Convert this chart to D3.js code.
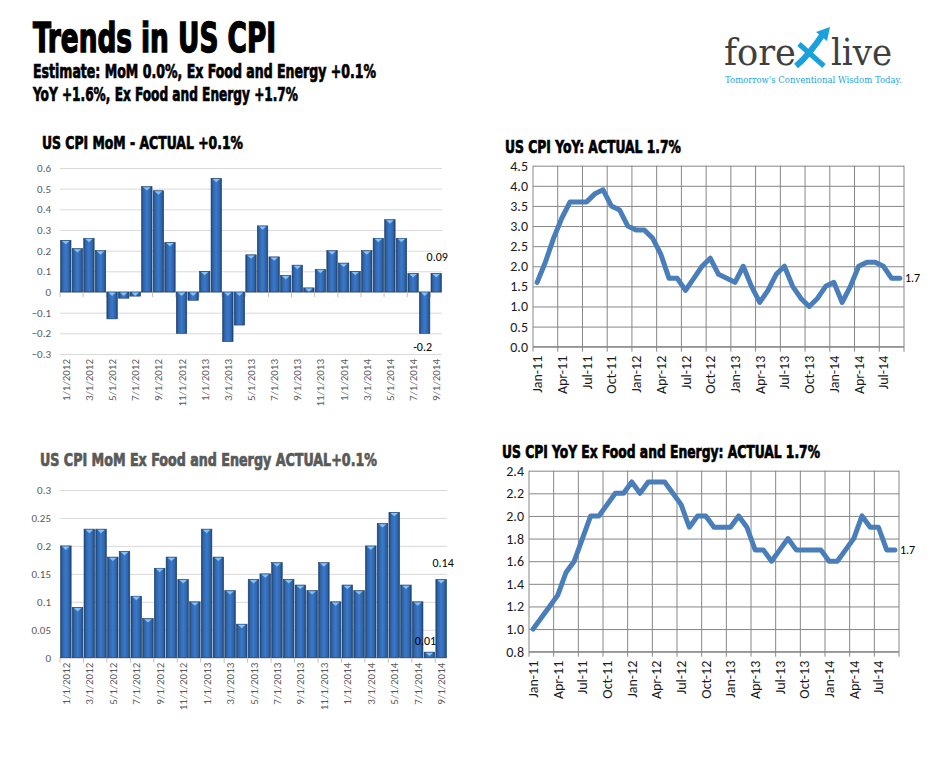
<!DOCTYPE html>
<html><head><meta charset="utf-8">
<script src="https://cdn.jsdelivr.net/npm/d3@7"></script>
<style>
body{margin:0;background:#fff;}
svg{display:block;}
.imp{font-family:Impact,"DejaVu Sans Condensed","Liberation Sans Narrow",sans-serif;font-weight:bold;font-stretch:condensed;}
.ax{font-family:Carlito,Lato,"Liberation Sans",sans-serif;}
</style></head>
<body>
<script>
// ---------- DATA ----------
const barMonths = ["1/1/2012","2/1/2012","3/1/2012","4/1/2012","5/1/2012","6/1/2012","7/1/2012","8/1/2012","9/1/2012","10/1/2012","11/1/2012","12/1/2012",
 "1/1/2013","2/1/2013","3/1/2013","4/1/2013","5/1/2013","6/1/2013","7/1/2013","8/1/2013","9/1/2013","10/1/2013","11/1/2013","12/1/2013",
 "1/1/2014","2/1/2014","3/1/2014","4/1/2014","5/1/2014","6/1/2014","7/1/2014","8/1/2014","9/1/2014"];
const cpiMoM = [0.25,0.21,0.26,0.20,-0.13,-0.03,-0.02,0.51,0.49,0.24,-0.20,-0.04,
 0.10,0.55,-0.24,-0.16,0.18,0.32,0.17,0.08,0.13,0.02,0.11,0.20,
 0.14,0.10,0.20,0.26,0.35,0.26,0.09,-0.20,0.09];
const coreMoM = [0.20,0.09,0.23,0.23,0.18,0.19,0.11,0.07,0.16,0.18,0.14,0.10,
 0.23,0.18,0.12,0.06,0.14,0.15,0.17,0.14,0.13,0.12,0.17,0.10,
 0.13,0.12,0.20,0.24,0.26,0.13,0.10,0.01,0.14];
const lineMonths = ["Jan-11","Feb-11","Mar-11","Apr-11","May-11","Jun-11","Jul-11","Aug-11","Sep-11","Oct-11","Nov-11","Dec-11",
 "Jan-12","Feb-12","Mar-12","Apr-12","May-12","Jun-12","Jul-12","Aug-12","Sep-12","Oct-12","Nov-12","Dec-12",
 "Jan-13","Feb-13","Mar-13","Apr-13","May-13","Jun-13","Jul-13","Aug-13","Sep-13","Oct-13","Nov-13","Dec-13",
 "Jan-14","Feb-14","Mar-14","Apr-14","May-14","Jun-14","Jul-14","Aug-14","Sep-14"];
const cpiYoY = [1.6,2.1,2.7,3.2,3.6,3.6,3.6,3.8,3.9,3.5,3.4,3.0,
 2.9,2.9,2.7,2.3,1.7,1.7,1.4,1.7,2.0,2.2,1.8,1.7,
 1.6,2.0,1.5,1.1,1.4,1.8,2.0,1.5,1.2,1.0,1.2,1.5,
 1.6,1.1,1.5,2.0,2.1,2.1,2.0,1.7,1.7];
const coreYoY = [1.0,1.1,1.2,1.3,1.5,1.6,1.8,2.0,2.0,2.1,2.2,2.2,
 2.3,2.2,2.3,2.3,2.3,2.2,2.1,1.9,2.0,2.0,1.9,1.9,
 1.9,2.0,1.9,1.7,1.7,1.6,1.7,1.8,1.7,1.7,1.7,1.7,
 1.6,1.6,1.7,1.8,2.0,1.9,1.9,1.7,1.7];
const momTicks = [-0.3,-0.2,-0.1,0,0.1,0.2,0.3,0.4,0.5,0.6];
const coreMomTicks = [0,0.05,0.1,0.15,0.2,0.25,0.3];
const yoyTicks = [0,0.5,1,1.5,2,2.5,3,3.5,4,4.5];
const coreYoyTicks = [0.8,1.0,1.2,1.4,1.6,1.8,2.0,2.2,2.4];

const W=941,H=759;
const svg=d3.select("body").append("svg").attr("width",W).attr("height",H);
const defs=svg.append("defs");
const g=defs.append("linearGradient").attr("id","barG").attr("x1","0").attr("x2","1").attr("y1","0").attr("y2","0");
[[0,"#1b4375"],[0.18,"#2f64aa"],[0.5,"#3b79c9"],[0.82,"#2f64aa"],[1,"#1b4375"]].forEach(s=>g.append("stop").attr("offset",s[0]).attr("stop-color",s[1]));

// ---------- HEADINGS ----------
function imp(x,y,txt,size,len,col,sw){
  svg.append("text").attr("class","imp").attr("x",x).attr("y",y).attr("font-size",size)
   .attr("fill",col||"#000").attr("stroke",col||"#000").attr("stroke-width",sw||0.7)
   .attr("textLength",len).attr("lengthAdjust","spacingAndGlyphs").text(txt);
}
imp(33,52,"Trends in US CPI",40,243,"#000",1.4);
imp(33,78,"Estimate: MoM 0.0%, Ex Food and Energy +0.1%",19,343);
imp(33,101,"YoY +1.6%, Ex Food and Energy +1.7%",19,265);
imp(42,149,"US CPI MoM - ACTUAL +0.1%",17.5,201);
imp(505,153,"US CPI YoY: ACTUAL 1.7%",17.5,176);
imp(40,466,"US CPI MoM Ex Food and Energy ACTUAL+0.1%",17.5,337,"#595959");
imp(502,458,"US CPI YoY Ex Food and Energy: ACTUAL 1.7%",17.5,318);

// ---------- LOGO ----------
const logo=svg.append("g");
logo.append("text").attr("x",724).attr("y",65).attr("font-family","'DejaVu Serif','Liberation Serif',serif")
 .attr("font-size",38).attr("fill","#3f3f3f").attr("textLength",72).attr("lengthAdjust","spacingAndGlyphs").text("fore");
logo.append("text").attr("x",831).attr("y",65).attr("font-family","'DejaVu Serif','Liberation Serif',serif")
 .attr("font-size",38).attr("fill","#3f3f3f").attr("textLength",61).attr("lengthAdjust","spacingAndGlyphs").text("live");
logo.append("path").attr("d","M799,44 L824,66").attr("stroke","#1aa0dc").attr("stroke-width",5).attr("fill","none");
logo.append("path").attr("d","M796,66 C806,58 815,46 823,34").attr("stroke","#1aa0dc").attr("stroke-width",6).attr("fill","none");
logo.append("path").attr("d","M816,32 L830,27 L827,41 Z").attr("fill","#1aa0dc");
logo.append("text").attr("x",725).attr("y",83).attr("font-family","'DejaVu Serif','Liberation Serif',serif")
 .attr("font-size",9.5).attr("fill","#29a3d8").attr("textLength",177).attr("lengthAdjust","spacingAndGlyphs").text("Tomorrow's Conventional Wisdom Today.");

// ---------- BAR CHART ----------
function barChart(o){
  const x=d3.scaleBand().domain(barMonths).range([o.x0,o.x1]).paddingInner(0.1).paddingOuter(0.05);
  const y=d3.scaleLinear().domain(o.dom).range([o.yb,o.yt]);
  const G=svg.append("g");
  const ax=d3.axisLeft(y).tickValues(o.ticks).tickSize(-(o.x1-o.x0)).tickFormat(d=>d3.format("")(+d.toFixed(2)));
  const ga=G.append("g").attr("transform",`translate(${o.x0},0)`).call(ax);
  ga.select(".domain").remove();
  ga.selectAll(".tick line").attr("stroke","#d9d9d9");
  ga.selectAll(".tick text").attr("class","ax").attr("font-size",11).attr("fill","#595959").attr("x",-9);
  const y0=y(0);
  G.append("line").attr("x1",o.x0).attr("x2",o.x1).attr("y1",y0).attr("y2",y0).attr("stroke","#bfbfbf");
  const step=x.step();
  d3.range(0,barMonths.length+1,2).forEach(i=>{
    const xx=o.x0+x.paddingOuter()*step+i*step-x.paddingInner()*step/2;
    G.append("line").attr("x1",xx).attr("x2",xx).attr("y1",y0).attr("y2",y0+5).attr("stroke","#bfbfbf");
  });
  const bars=G.selectAll("g.bar").data(o.vals).enter().append("g");
  bars.append("rect").attr("x",(d,i)=>x(barMonths[i])).attr("width",x.bandwidth())
   .attr("y",d=>Math.min(y(d),y0)).attr("height",d=>Math.abs(y(d)-y0)).attr("fill","url(#barG)")
   .attr("stroke","#1a3c68").attr("stroke-width",0.6);
  bars.append("path").attr("d",(d,i)=>{const bx=x(barMonths[i]),bw=x.bandwidth(),ty=Math.min(y(d),y0);
     return `M${bx+1.5},${ty+0.6} L${bx+bw-1.5},${ty+0.6} L${bx+bw/2},${ty+4} Z`;}).attr("fill","#86c3f2");
  barMonths.forEach((m,i)=>{ if(i%2) return;
    const cx=x(m)+x.bandwidth()/2;
    G.append("text").attr("class","ax").attr("font-size",11).attr("fill","#595959")
     .attr("transform",`translate(${cx+4},${o.yb+5}) rotate(-90)`).attr("text-anchor","end").text(m);
  });
  o.labels.forEach(l=>{
    const i=l.i, v=o.vals[i], cx=x(barMonths[i])+x.bandwidth()/2;
    G.append("text").attr("class","ax").attr("font-size",12).attr("fill","#000").attr("text-anchor","middle")
     .attr("x",cx+l.dx).attr("y",y(v)+l.dy).text(l.t);
  });
}
barChart({x0:60,x1:442,yt:168,yb:354,dom:[-0.3,0.6],ticks:momTicks,vals:cpiMoM,
  labels:[{i:32,t:"0.09",dx:1,dy:-12},{i:31,t:"-0.2",dx:-2,dy:18}]});
barChart({x0:60,x1:447,yt:490,yb:657.7,dom:[0,0.3],ticks:coreMomTicks,vals:coreMoM,
  labels:[{i:32,t:"0.14",dx:2,dy:-12},{i:31,t:"0.01",dx:-4,dy:-7}]});

// ---------- LINE CHART ----------
function lineChart(o){
  const x=d3.scaleBand().domain(lineMonths).range([o.x0,o.x1]);
  const y=d3.scaleLinear().domain(o.dom).range([o.yb,o.yt]);
  const G=svg.append("g");
  const ax=d3.axisLeft(y).tickValues(o.ticks).tickSize(-(o.x1-o.x0)).tickFormat(d3.format(".1f"));
  const ga=G.append("g").attr("transform",`translate(${o.x0},0)`).call(ax);
  ga.select(".domain").remove();
  ga.selectAll(".tick line").attr("stroke","#868686");
  ga.selectAll(".tick text").attr("class","ax").attr("font-size",14).attr("fill","#1a1a1a").attr("x",-5);
  d3.range(0,lineMonths.length+1,3).forEach(i=>{
    const xx=o.x0+i*x.step();
    G.append("line").attr("x1",xx).attr("x2",xx).attr("y1",o.yt).attr("y2",o.yb+5).attr("stroke","#868686");
  });
  G.append("line").attr("x1",o.x0).attr("x2",o.x1).attr("y1",o.yb).attr("y2",o.yb).attr("stroke","#868686");
  const ln=d3.line().x((d,i)=>x(lineMonths[i])+x.bandwidth()/2).y(d=>y(d));
  G.append("path").datum(o.vals).attr("d",ln).attr("fill","none").attr("stroke","#4a7ebb")
   .attr("stroke-width",5).attr("stroke-linejoin","round").attr("stroke-linecap","round");
  lineMonths.forEach((m,i)=>{ if(i%3) return;
    const cx=x(m)+x.bandwidth()/2;
    G.append("text").attr("class","ax").attr("font-size",14).attr("fill","#1a1a1a")
     .attr("transform",`translate(${cx+5},${o.yb+9}) rotate(-90)`).attr("text-anchor","end").text(m);
  });
  const n=o.vals.length-1;
  G.append("text").attr("class","ax").attr("font-size",12).attr("fill","#000")
   .attr("x",x(lineMonths[n])+x.bandwidth()/2+5).attr("y",y(o.vals[n])+4).text(d3.format(".1f")(o.vals[n]));
}
lineChart({x0:533,x1:904,yt:165.7,yb:346.7,dom:[0,4.5],ticks:yoyTicks,vals:cpiYoY});
lineChart({x0:529,x1:899,yt:470.7,yb:651.7,dom:[0.8,2.4],ticks:coreYoyTicks,vals:coreYoY});
</script>
</body></html>
